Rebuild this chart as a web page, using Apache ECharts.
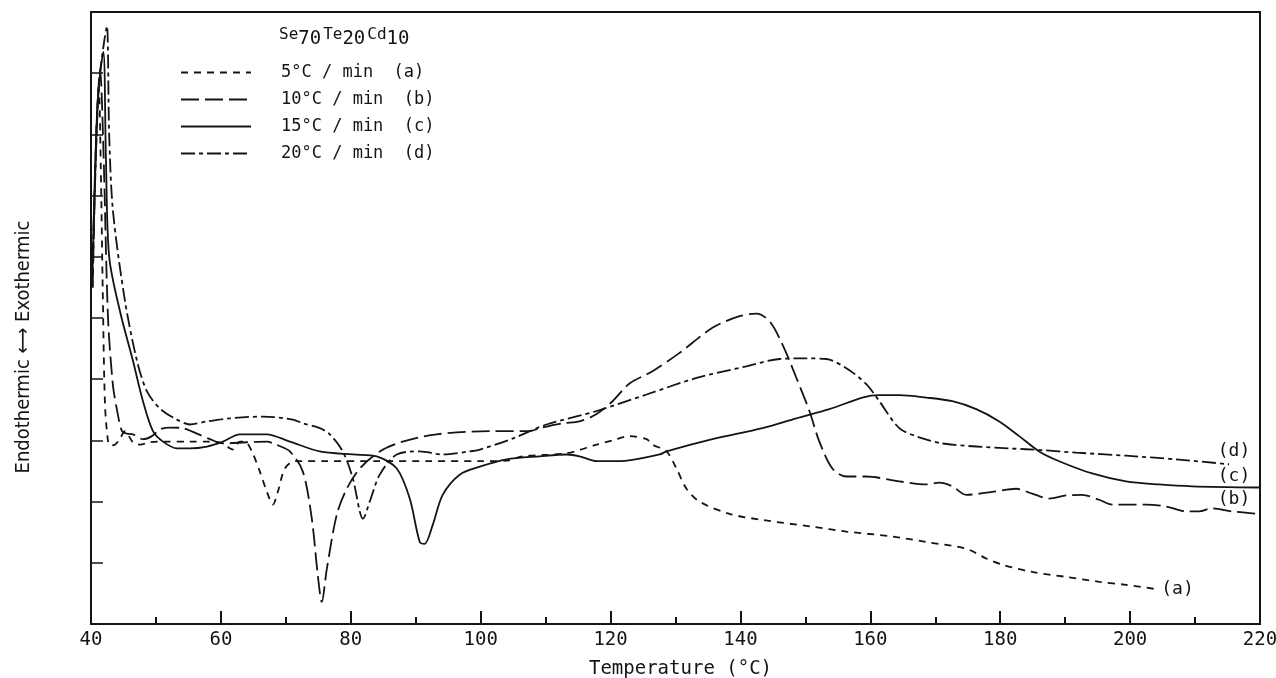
<!DOCTYPE html>
<html>
<head>
<meta charset="utf-8">
<title>Se70Te20Cd10 DSC</title>
<script src="https://cdn.jsdelivr.net/npm/echarts@6/dist/echarts.min.js"></script>
<style>
  html, body { margin: 0; padding: 0; background: #ffffff; }
  #chart { width: 1276px; height: 678px; }
</style>
</head>
<body>
<div id="chart"></div>
<script>
// temperature (deg C) vs. heat flow (arbitrary units, 0..10)
const xTicks = [40, 60, 80, 100, 120, 140, 160, 180, 200, 220];
const rateNames = ["5°C / min  (a)", "10°C / min  (b)", "15°C / min  (c)", "20°C / min  (d)"];

const curveA = [
  [40.25, 5.5], [40.8, 8.0], [41.2, 8.75], [41.5, 7.5], [41.8, 5.5], [42.15, 3.6], [42.6, 3.0],
  [42.92, 2.92], [43.69, 2.93], [44.46, 3.03], [45.23, 3.15], [46.46, 2.97], [47.54, 2.93],
  [49.08, 2.97], [51.38, 2.98], [55.23, 2.98], [58.31, 2.98], [60.31, 2.95], [61.38, 2.87],
  [61.85, 2.85], [62.92, 2.98], [63.69, 2.98], [64.77, 2.82], [66.0, 2.49], [67.08, 2.16],
  [68.0, 1.95], [68.77, 2.16], [69.85, 2.54], [71.38, 2.66], [76, 2.66], [84, 2.66],
  [92, 2.66], [99.85, 2.66], [104, 2.67], [106.46, 2.74], [113.23, 2.79], [117.85, 2.93],
  [120.31, 3.0], [122.92, 3.07], [125.54, 3.02], [126.46, 2.93], [128.62, 2.82], [130.15, 2.54],
  [131.69, 2.21], [133.69, 2.0], [138.31, 1.8], [143.38, 1.7], [151.08, 1.59], [156.31, 1.51],
  [163.38, 1.43], [168.62, 1.34], [174.77, 1.23], [177.85, 1.07], [180.31, 0.97], [184.92, 0.85],
  [190.15, 0.77], [195.23, 0.69], [199.38, 0.64], [204.0, 0.57]
];

const curveB = [
  [40.25, 5.5], [40.9, 8.2], [41.4, 9.05], [41.9, 7.8], [42.62, 5.0], [43.38, 3.9], [44.0, 3.5],
  [44.77, 3.15], [45.54, 3.11], [46.46, 3.1], [48.0, 3.02], [49.38, 3.07], [50.62, 3.18],
  [52.15, 3.21], [54.15, 3.2], [56.31, 3.11], [58.31, 3.02], [60.31, 2.95], [64, 2.97],
  [67.08, 2.98], [68.5, 2.93], [70.62, 2.82], [72.62, 2.49], [74.0, 1.72], [74.92, 0.8],
  [75.54, 0.36], [76.31, 0.9], [77.85, 1.79], [79.38, 2.21], [81.38, 2.54], [84.46, 2.82],
  [88.0, 2.98], [93.23, 3.1], [101.38, 3.15], [107.54, 3.15], [109.08, 3.2], [112.62, 3.28],
  [115.23, 3.31], [117.85, 3.43], [120.31, 3.64], [122.92, 3.93], [126.46, 4.13], [130.62, 4.43],
  [135.69, 4.84], [139.85, 5.03], [142.46, 5.07], [144.46, 4.95], [146.46, 4.57], [148.62, 4.02],
  [150.62, 3.48], [152.15, 2.98], [154.15, 2.54], [156.31, 2.41], [159.38, 2.41], [164.46, 2.33],
  [168.62, 2.28], [170.62, 2.31], [172.62, 2.25], [174.77, 2.11], [178.77, 2.16], [182.46, 2.21],
  [184.92, 2.13], [187.54, 2.05], [190.15, 2.1], [192.62, 2.11], [195.23, 2.03], [197.23, 1.95],
  [202.46, 1.95], [205.54, 1.92], [208.62, 1.84], [210.62, 1.84], [212.62, 1.89], [215.69, 1.84],
  [219.85, 1.8]
];

const curveC = [
  [40.25, 5.8], [41.0, 8.5], [41.9, 9.35], [42.3, 7.6], [42.8, 6.0], [44.46, 5.11], [46.46, 4.3],
  [48.0, 3.64], [49.54, 3.15], [51.08, 2.98], [53.23, 2.87], [55.23, 2.87], [57.85, 2.9],
  [60.31, 2.98], [62.92, 3.1], [67.08, 3.1], [70.62, 2.98], [75.23, 2.82], [80.31, 2.77],
  [84.0, 2.74], [87.08, 2.54], [89.08, 2.05], [90.62, 1.34], [91.38, 1.31], [92.62, 1.62],
  [94.15, 2.11], [96.77, 2.44], [99.85, 2.57], [103.99, 2.69], [109.08, 2.74], [113.23, 2.77],
  [115.23, 2.74], [117.85, 2.66], [121.38, 2.66], [127.54, 2.77], [128.62, 2.82], [135.69, 3.02],
  [143.38, 3.2], [148.62, 3.36], [153.69, 3.51], [158.77, 3.7], [161.38, 3.74], [164.46, 3.74],
  [168.62, 3.7], [172.62, 3.64], [176.31, 3.51], [179.85, 3.31], [182.92, 3.07], [186.0, 2.82],
  [189.08, 2.66], [194.15, 2.46], [199.38, 2.33], [204.46, 2.28], [209.54, 2.25], [219.85, 2.23]
];

const curveD = [
  [40.25, 6.0], [41.2, 8.8], [42.0, 9.5], [42.46, 9.77], [42.8, 8.0], [43.38, 6.75], [45.23, 5.28],
  [47.08, 4.3], [48.62, 3.8], [50.62, 3.52], [53.23, 3.34], [55.23, 3.26], [57.85, 3.31],
  [61.38, 3.36], [66.46, 3.39], [71.08, 3.34], [72.62, 3.28], [75.23, 3.2], [76.77, 3.1],
  [78.77, 2.82], [80.31, 2.38], [81.38, 1.84], [81.85, 1.72], [82.92, 2.0], [84.46, 2.44],
  [87.08, 2.77], [90.62, 2.82], [94.15, 2.77], [98.31, 2.82], [99.85, 2.85], [104.92, 3.03],
  [110.15, 3.26], [117.85, 3.48], [125.54, 3.75], [133.23, 4.02], [140.92, 4.21], [146.0, 4.33],
  [150.15, 4.34], [153.23, 4.33], [156.31, 4.18], [159.38, 3.92], [161.38, 3.64], [164.46, 3.2],
  [167.54, 3.05], [171.08, 2.95], [176.31, 2.9], [181.38, 2.87], [186.46, 2.84], [191.69, 2.8],
  [199.38, 2.75], [207.08, 2.69], [215.23, 2.61]
];

// curve tags written next to the trace ends
const endTags = [
  [216.0, 2.82, "(d)"],
  [216.0, 2.41, "(c)"],
  [216.0, 2.03, "(b)"],
  [207.3, 0.57, "(a)"]
];

const ink = "#141414";
const mono = "DejaVu Sans Mono";
const cond = "DejaVu Sans Condensed, DejaVu Sans";

let chart = echarts.init(document.getElementById("chart"));

function trace(name, data, dash) {
  return {
    name: name,
    type: "line",
    data: data,
    smooth: 0.3,
    symbol: "none",
    lineStyle: { color: ink, width: 1.8, type: dash },
    itemStyle: { color: ink },
    z: 3,
  };
}

let option = {
  backgroundColor: "#ffffff",
  animation: false,
  grid: {
    left: 91,
    right: 16,
    top: 12,
    bottom: 54,
    outerBoundsMode: "none",
    show: true,
    borderColor: ink,
    borderWidth: 2,
  },
  title: {
    left: 274,
    top: 22,
    text: "{n|Se}{s|70}{n|Te}{s|20}{n|Cd}{s|10}",
    textStyle: {
      rich: {
        n: { fontFamily: mono, fontSize: 16, fontWeight: "normal", color: ink, padding: [0, 0, 8, 0] },
        s: { fontFamily: mono, fontSize: 19, fontWeight: "normal", color: ink, padding: [0, 2, 0, 0] },
      },
    },
  },
  legend: {
    data: rateNames,
    orient: "vertical",
    left: 175,
    top: 59,
    itemWidth: 70,
    itemHeight: 14,
    itemGap: 10,
    itemStyle: { opacity: 0 },
    textStyle: {
      fontFamily: mono,
      fontSize: 17,
      color: ink,
      padding: [0, 0, 0, 25],
    },
  },
  xAxis: {
    type: "value",
    min: 40,
    max: 220,
    interval: 20,
    name: "Temperature (°C)",
    nameLocation: "middle",
    nameGap: 36,
    nameTextStyle: { fontFamily: mono, fontSize: 19, color: ink, padding: [0, 0, 0, 10] },
    axisLine: { lineStyle: { color: ink, width: 2 } },
    axisTick: { inside: true, length: 13, lineStyle: { color: ink, width: 2 } },
    minorTick: { show: true, splitNumber: 2, length: 7, lineStyle: { color: ink, width: 2 } },
    axisLabel: { fontFamily: mono, fontSize: 19, color: ink, margin: 7 },
    splitLine: { show: false },
  },
  yAxis: {
    type: "value",
    min: 0,
    max: 10,
    interval: 1,
    name: "Endothermic ⟷ Exothermic",
    nameLocation: "middle",
    nameRotate: 90,
    nameGap: 57,
    nameTextStyle: { fontFamily: cond, fontSize: 20, color: ink, padding: [0, 58, 0, 0] },
    axisLine: { lineStyle: { color: ink, width: 2 } },
    axisTick: { inside: true, length: 12, lineStyle: { color: ink, width: 1.5 } },
    axisLabel: { show: false },
    splitLine: { show: false },
  },
  series: [
    trace(rateNames[0], curveA, [7, 6]),
    trace(rateNames[1], curveB, [18, 6]),
    trace(rateNames[2], curveC, "solid"),
    trace(rateNames[3], curveD, [14, 4, 4, 4]),
    {
      name: "tags",
      type: "scatter",
      data: endTags,
      symbolSize: 0,
      silent: true,
      itemStyle: { opacity: 1 },
      label: {
        show: true,
        position: "inside",
        formatter: (p) => p.data[2],
        fontFamily: mono,
        fontSize: 18,
        color: ink,
        opacity: 1,
      },
    },
  ],
};

chart.setOption(option, true);
</script>
</body>
</html>
